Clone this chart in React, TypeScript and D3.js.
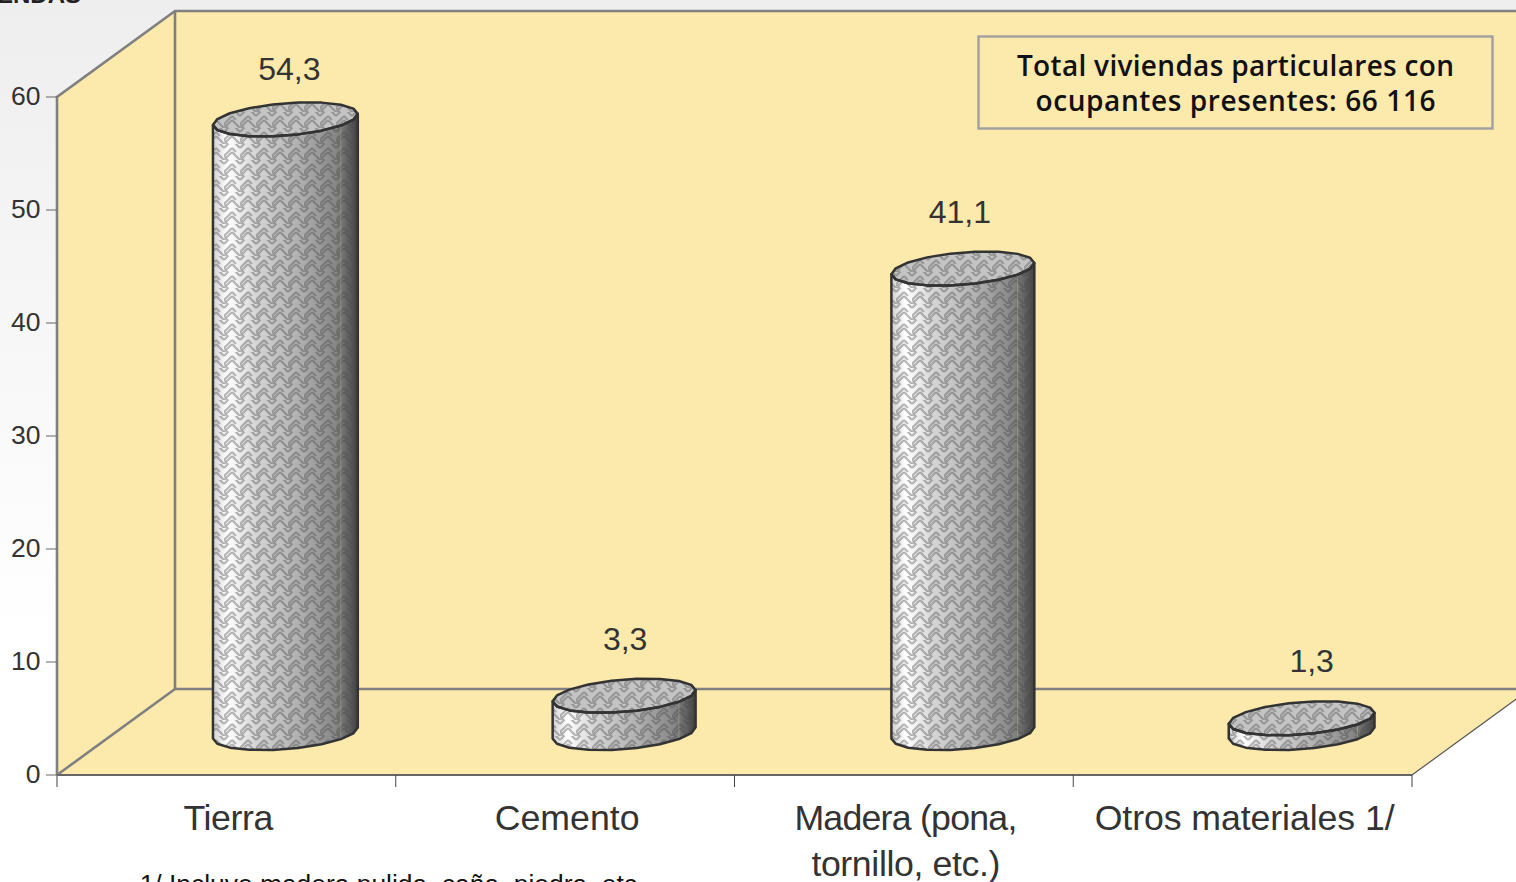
import React from "react";
import * as d3 from "d3";

const categories = ["Tierra", "Cemento", "Madera (pona,|tornillo, etc.)", "Otros materiales 1/"];
const values = [54.3, 3.3, 41.1, 1.3];
const valueLabels = ["54,3", "3,3", "41,1", "1,3"];
const yTicks = [0, 10, 20, 30, 40, 50, 60];
const boxLines = ["Total viviendas particulares con", "ocupantes presentes: 66 116"];
const footnote = "1/ Incluye madera pulida, caña, piedra, etc.";
const cutTitle = "VIVIENDAS";

const W = 1516, H = 882;
const x0 = 57, x1 = 1412, yBase = 775, yTop = 97;
const DX = 118, DY = -86;
const WALL = "#fce9ac";
const AXIS = "#808080";
const DARK = "#333333";
const labelNudgeX = [4, 1, -3, 10];
const labelNudgeY = [-22, -29, -29, -29];
const radii = [68.5, 67.5, 67.5, 69];
const boxWidths = [437, 400];
const catWidths = [[90], [145], [223, 189], [300]];

const y = d3.scaleLinear().domain([0, 60]).range([yBase, yTop]);
const x = d3.scaleBand<number>().domain(categories.map((_, i) => i)).range([x0, x1]);
const unit = (yBase - yTop) / 60;

const RD = 29, UX = 0.81, UY = -0.59;
const SEG = 18;
const line = d3.line();

// Woven tile: stacked chevrons, every other row broken on its falling leg
const TILE = 16;
const weavePath = "M0 4L8 -4M8 -4L16 4" + "M0 12L8 4M8 4L12 8M0 12L4 16" + "M0 16L8 8M8 8L16 16M8 24L16 16";

function Bar({ i }: { i: number }) {
  const cx = x(i)! + x.bandwidth() / 2 + 59;
  const cyB = 733;
  const cyT = cyB - values[i] * unit;
  const R1 = radii[i];
  const tR = Math.atan2(RD * UX, R1);
  const tL = tR + Math.PI;
  const pt = (t: number, c: number) =>
    [cx + R1 * Math.cos(t) + RD * UX * Math.sin(t), c + RD * UY * Math.sin(t)] as [number, number];
  const near = (c: number) =>
    d3.range(SEG / 2 + 1).map((k) => pt(tL + (Math.PI * k) / (SEG / 2), c));
  const nearB = near(cyB);
  const nearT = near(cyT);
  const sideD = line([...nearT, ...[...nearB].reverse()])! + "Z";
  const topD = line(d3.range(SEG).map((k) => pt(tL + (2 * Math.PI * k) / SEG, cyT)))! + "Z";
  const seams = d3.range(SEG / 2 - 2, SEG / 2 - 1);
  return (
    <g>
      <path d={sideD} fill="url(#cyl)" />
      <path d={sideD} fill="url(#weave)" />
      {seams.map((k) => (
        <path key={k} d={`M${nearT[k][0]},${nearT[k][1]} L${nearB[k][0]},${nearB[k][1]}`} stroke="#d8d6b8" strokeOpacity={0.3} strokeWidth={1} />
      ))}
      <path d={topD} fill="#c4c4c4" />
      <path d={topD} fill="url(#weaveTop)" />
      <path d={sideD} fill="none" stroke={DARK} strokeWidth={2.5} strokeLinejoin="round" />
      <path d={topD} fill="none" stroke={DARK} strokeWidth={2.5} strokeLinejoin="round" />
      <text x={cx + labelNudgeX[i]} y={cyT - 17 + labelNudgeY[i]} textAnchor="middle" fontFamily="Liberation Sans" fontSize={32} fill={DARK}>
        {valueLabels[i]}
      </text>
    </g>
  );
}

export default function App() {
  const wallRight = W + 10;
  return (
    <svg width={W} height={H} style={{ position: "fixed", left: 0, top: 0, display: "block" }}>
      <defs>
        <linearGradient id="bg" x1="0" y1="0" x2="0" y2="1">
          <stop offset="0" stopColor="#eeeeee" />
          <stop offset="0.72" stopColor="#ffffff" />
        </linearGradient>
        <linearGradient id="cyl" x1="0" y1="0" x2="1" y2="0">
          <stop offset="0" stopColor="#d0d0d0" />
          <stop offset="0.1" stopColor="#ffffff" />
          <stop offset="0.3" stopColor="#d4d4d4" />
          <stop offset="0.6" stopColor="#b0b0b0" />
          <stop offset="0.85" stopColor="#868686" />
          <stop offset="0.95" stopColor="#5a5a5a" />
          <stop offset="1" stopColor="#404040" />
        </linearGradient>
        <pattern id="weave" width={TILE} height={TILE} patternUnits="userSpaceOnUse">
          <path d={weavePath} fill="none" stroke="#4a4a4a" strokeOpacity={0.38} strokeWidth={2.2} />
        </pattern>
        <pattern id="weaveTop" width={TILE} height={TILE} patternUnits="userSpaceOnUse">
          <path d={weavePath} fill="none" stroke="#6a6a6a" strokeOpacity={0.5} strokeWidth={2.2} />
        </pattern>
      </defs>
      <rect width={W} height={H} fill="url(#bg)" />
      <text x={81} y={3} textAnchor="end" fontFamily="Liberation Sans" fontWeight="bold" fontSize={24} fill="#222">{cutTitle}</text>

      <polygon points={`${x0},${y(60)} ${x0 + DX},${y(60) + DY} ${x0 + DX},${yBase + DY} ${x0},${yBase}`} fill={WALL} />
      <polygon points={`${x0 + DX},${y(60) + DY} ${wallRight},${y(60) + DY} ${wallRight},${yBase + DY} ${x0 + DX},${yBase + DY}`} fill={WALL} />
      <polygon points={`${x0},${yBase} ${x0 + DX},${yBase + DY} ${x1 + DX},${yBase + DY} ${x1},${yBase}`} fill={WALL} />

      <g fill="none" stroke={AXIS} strokeWidth={2.6}>
        <path d={`M${x0},${yBase} V${y(60)} L${x0 + DX},${y(60) + DY} H${wallRight}`} />
        <path d={`M${x0 + DX},${y(60) + DY} V${yBase + DY} H${wallRight}`} />
        <path d={`M${x0},${yBase} L${x0 + DX},${yBase + DY}`} />
      </g>
      <path d={`M${x1},${yBase} L${x1 + DX},${yBase + DY}`} stroke="#555" strokeWidth={1.2} />
      <path d={`M${x0},${yBase} H${x1}`} stroke="#666" strokeWidth={2} />
      <path d={`M${x0},${yBase} v12`} stroke={AXIS} strokeWidth={1.5} />
      {categories.map((_, i) => (
        <path key={i} d={`M${x(i)! + x.bandwidth()},${yBase} v12`} stroke="#444" strokeWidth={1} />
      ))}

      {yTicks.map((t) => (
        <g key={t}>
          <path d={`M${x0 - 11},${y(t)} H${x0}`} stroke="#666" strokeWidth={1} />
          <text x={40.5} y={y(t) + 8} textAnchor="end" fontFamily="Liberation Sans" fontSize={26.5} fill={DARK}>{t}</text>
        </g>
      ))}

      {values.map((_, i) => <Bar key={i} i={i} />)}

      {categories.map((c, i) =>
        c.split("|").map((ln, k) => (
          <text key={k} x={x(i)! + x.bandwidth() / 2 + 2} y={830 + k * 46} textAnchor="middle" fontFamily="Liberation Sans" fontSize={35.7} fill={DARK} textLength={catWidths[i][k]} lengthAdjust="spacing">
            {ln}
          </text>
        ))
      )}

      <rect x={978.5} y={36.5} width={514} height={92} fill={WALL} stroke="#a0a0a0" strokeWidth={2.4} />
      {boxLines.map((ln, k) => (
        <text key={k} x={1235.5} y={76 + k * 35} textAnchor="middle" fontFamily="Open Sans" fontWeight={600} fontSize={28} fill="#111" textLength={boxWidths[k]} lengthAdjust="spacing">
          {ln}
        </text>
      ))}

      <text x={392} y={893} textAnchor="middle" fontFamily="Liberation Sans" fontSize={26.4} fill="#111">{footnote}</text>
    </svg>
  );
}
